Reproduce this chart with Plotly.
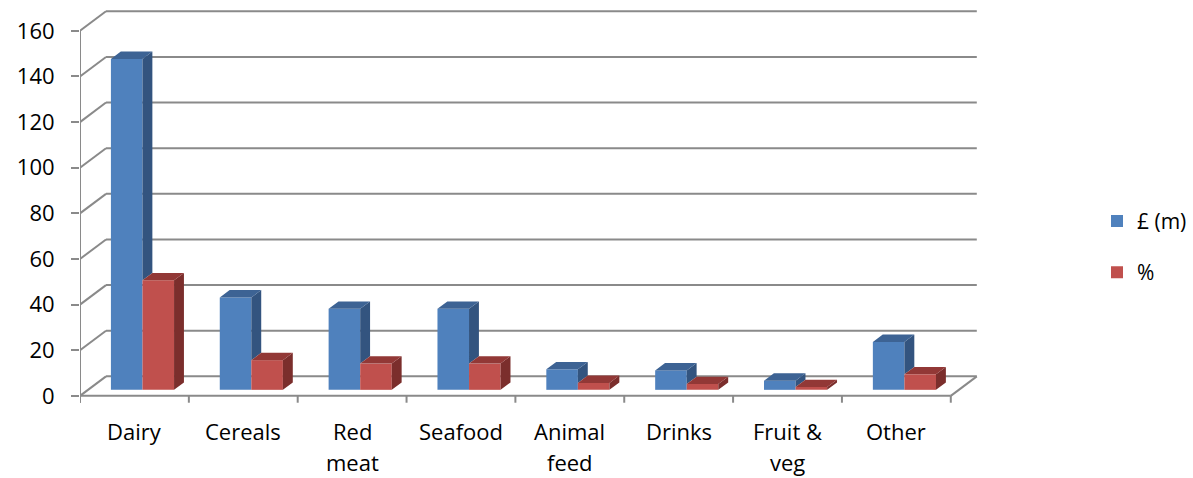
import plotly.graph_objects as go

# ---- data -------------------------------------------------------------
categories = ["Dairy", "Cereals", "Red<br>meat", "Seafood",
              "Animal<br>feed", "Drinks", "Fruit &<br>veg", "Other"]
value_m = [145, 40.5, 35.5, 35.5, 9, 8.5, 4, 21]
value_pct = [48, 13, 11.5, 11.5, 3, 2.5, 1.2, 6.8]
series_names = ["£ (m)", "%"]
y_ticks = [0, 20, 40, 60, 80, 100, 120, 140, 160]

# ---- pseudo-3D geometry (in axis units) -------------------------------
DX, DY = 0.239, 8.55      # full depth of the box, x / y axis units
F0, F1 = 0.31, 0.69       # depth slice occupied by the bars
W = 0.29                  # width of one bar face
GRID = "#8A8A8A"
FONT = "Open Sans"

FRONT = ["#4F81BD", "#C0504D"]
TOP = ["#3D6394", "#923836"]
SIDE = ["#33547F", "#7B2E2C"]

n = len(categories)
xs = list(range(n))
base = F0 * DY
dxd, dyd = (F1 - F0) * DX, (F1 - F0) * DY

fig = go.Figure()

# front faces
for s, vals in enumerate([value_m, value_pct]):
    fig.add_trace(go.Bar(
        x=[i + F0 * DX for i in xs], y=vals, base=base,
        width=W, offset=-W if s == 0 else 0,
        marker=dict(color=FRONT[s], line=dict(width=0)),
        name=series_names[s], legendgroup=series_names[s],
    ))

# side and top faces
for s, vals in enumerate([value_m, value_pct]):
    sx, sy, tx, ty = [], [], [], []
    for i in xs:
        xl = i + F0 * DX + (-W if s == 0 else 0)
        xr = xl + W
        top = base + vals[i]
        # blue side is hidden below the red top face
        bot = base + (min(value_pct[i], vals[i]) if s == 0 else 0)
        sx += [xr, xr, xr + dxd, xr + dxd, xr, None]
        sy += [bot, top, top + dyd, bot + dyd, bot, None]
        tx += [xl, xr, xr + dxd, xl + dxd, xl, None]
        ty += [top, top, top + dyd, top + dyd, top, None]
    for px, py, col in ((sx, sy, SIDE[s]), (tx, ty, TOP[s])):
        fig.add_trace(go.Scatter(
            x=px, y=py, mode="lines", fill="toself", fillcolor=col,
            line=dict(width=0, color=col), showlegend=False,
            hoverinfo="skip",
        ))

# walls, floor and axis lines
shapes = []
def seg(x0, y0, x1, y1):
    shapes.append(dict(type="line", xref="x", yref="y", x0=x0, y0=y0,
                       x1=x1, y1=y1, layer="below",
                       line=dict(color=GRID, width=2)))

for v in y_ticks:
    seg(-0.5 + DX, v + DY, n - 0.5 + DX, v + DY)
    seg(-0.5, v, -0.5 + DX, v + DY)
seg(-0.5, 0, n - 0.5, 0)
seg(n - 0.5, 0, n - 0.5 + DX, DY)
seg(-0.5, -3, -0.5, y_ticks[-1])
for k in range(n + 1):
    seg(k - 0.5, 0, k - 0.5, -3)

# category labels, one annotation per line
annotations = []
for i, lab in enumerate(categories):
    for j, line in enumerate(lab.split("<br>")):
        annotations.append(dict(
            x=i, y=-4, xref="x", yref="y", text=line, showarrow=False,
            xanchor="center", yanchor="middle", yshift=-26 - 31 * j,
            font=dict(family=FONT, size=22, color="#000000"),
        ))

fig.update_layout(
    width=1193, height=478,
    margin=dict(l=80, r=215, t=8, b=73),
    paper_bgcolor="white", plot_bgcolor="white",
    barmode="overlay",
    shapes=shapes, annotations=annotations,
    font=dict(family=FONT, size=21, color="#000000"),
    xaxis=dict(range=[-0.5, n - 0.5 + 0.25], showgrid=False,
               zeroline=False, showline=False, showticklabels=False,
               ticks=""),
    yaxis=dict(range=[-4, 170], tickvals=y_ticks, showgrid=False,
               zeroline=False, showline=False, ticks="outside",
               ticklen=8, tickwidth=2, tickcolor=GRID,
               ticklabelstandoff=12,
               tickfont=dict(family=FONT, size=22, color="#000000")),
    legend=dict(xref="container", yref="container", x=1097 / 1193,
                y=0.58, xanchor="left", yanchor="top",
                traceorder="grouped", tracegroupgap=21, itemwidth=30,
                font=dict(family=FONT, size=21, color="#000000")),
)

fig.write_html("out.html")
